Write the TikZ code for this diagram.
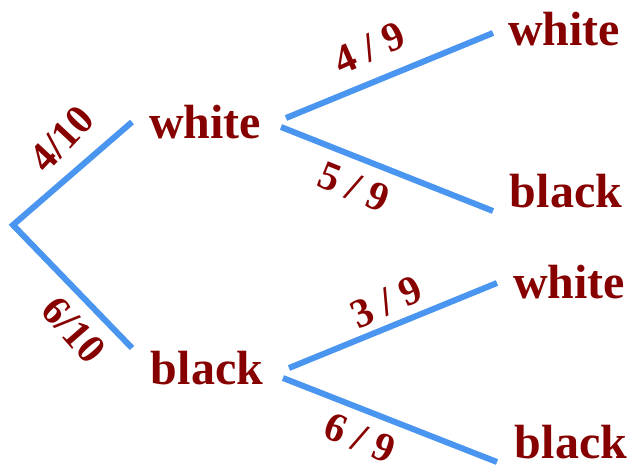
\documentclass[tikz,border=0pt]{standalone}
\usepackage{fontspec}
\setmainfont{Liberation Serif}
\usepackage{xcolor}
\definecolor{tb}{HTML}{4A95F0}
\definecolor{tr}{HTML}{870000}

\begin{document}
\begin{tikzpicture}[x=1pt,y=-1pt,
  branch/.style={tb,line width=6pt},
  outcome/.style={tr,inner sep=0pt,font=\fontsize{48}{48}\selectfont\bfseries},
  prob/.style={tr,inner sep=0pt,font=\fontsize{41}{41}\selectfont\bfseries}]
  \useasboundingbox (0,0) rectangle (629,466);

  % First draw
  \coordinate (r) at (13,225);
  \node[outcome] (w) at (205,122) {white};
  \node[outcome] (b) at (207,368) {black};
  \coordinate (wa) at (132,122);
  \coordinate (ba) at (132,348);
  \draw[branch] (wa) -- (r) -- (ba);
  \node[prob,rotate=47] (p1) at (62,139) {4/10};
  \node[prob,rotate=-49] (p2) at (74,330) {6/10};

  % Second draw after white
  \node[outcome] (ww) at (564,29) {white};
  \node[outcome] (wb) at (566,191) {black};
  \coordinate (ww0) at (286,118);
  \coordinate (ww1) at (493,33);
  \coordinate (wb0) at (281,127);
  \coordinate (wb1) at (493,211);
  \draw[branch] (ww0) -- (ww1);
  \draw[branch] (wb0) -- (wb1);
  \node[prob,rotate=24] (p3) at (369,48) {4 / 9};
  \node[prob,rotate=-22] (p4) at (354,187) {5 / 9};

  % Second draw after black
  \node[outcome] (bw) at (569,282) {white};
  \node[outcome] (bb) at (571,442) {black};
  \coordinate (bw0) at (289,368);
  \coordinate (bw1) at (497,283);
  \coordinate (bb0) at (283,378);
  \coordinate (bb1) at (497,462);
  \draw[branch] (bw0) -- (bw1);
  \draw[branch] (bb0) -- (bb1);
  \node[prob,rotate=24] (p5) at (386,302) {3 / 9};
  \node[prob,rotate=-22] (p6) at (360,438) {6 / 9};
\end{tikzpicture}
\end{document}
